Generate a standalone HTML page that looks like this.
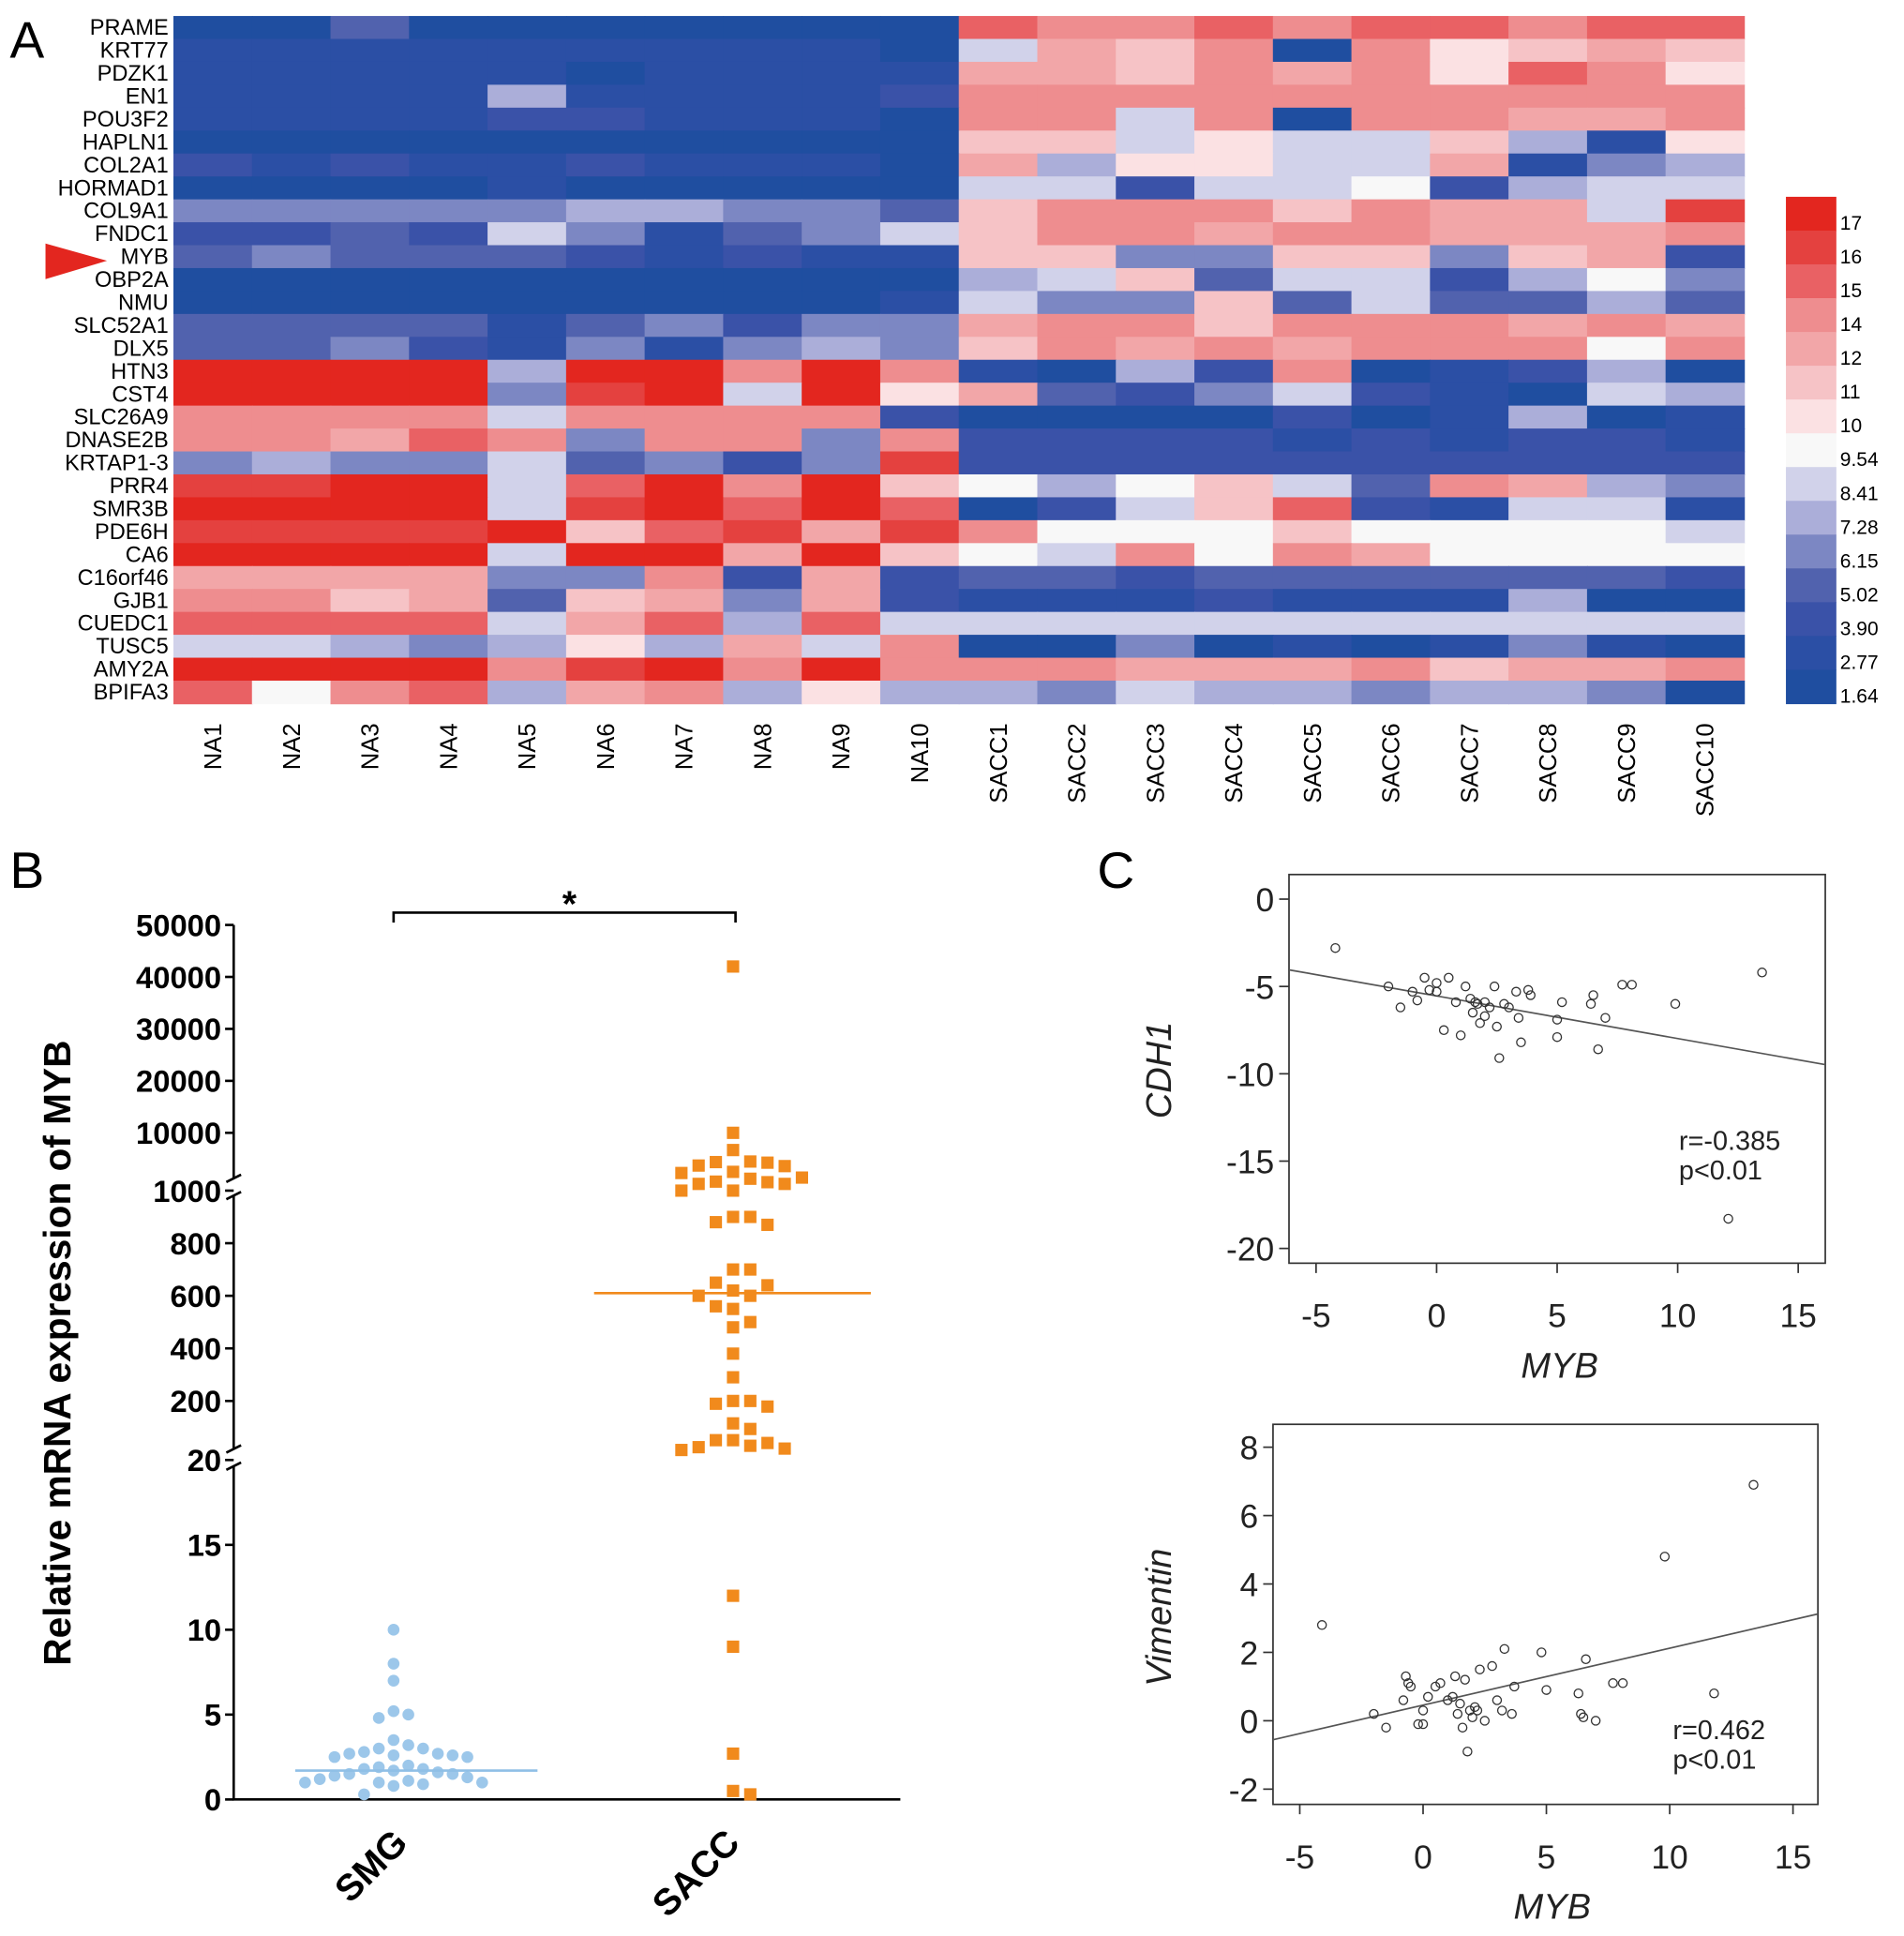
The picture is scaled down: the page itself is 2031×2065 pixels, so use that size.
<!DOCTYPE html>
<html><head><meta charset="utf-8">
<style>
html,body{margin:0;padding:0;background:#fff;}
svg{display:block;font-family:"Liberation Sans",Arial,sans-serif;}
</style></head>
<body>
<svg id="fig" width="2031" height="2065" viewBox="0 0 1548 1574" preserveAspectRatio="none" xmlns="http://www.w3.org/2000/svg">
<rect width="1548" height="1574" fill="#fff"/>
<g id="heat"></g>
<g id="pb"></g>
<g id="pc1"></g>
<g id="pc2"></g>
</svg>
<script>
const genes=["PRAME","KRT77","PDZK1","EN1","POU3F2","HAPLN1","COL2A1","HORMAD1","COL9A1","FNDC1","MYB","OBP2A","NMU","SLC52A1","DLX5","HTN3","CST4","SLC26A9","DNASE2B","KRTAP1-3","PRR4","SMR3B","PDE6H","CA6","C16orf46","GJB1","CUEDC1","TUSC5","AMY2A","BPIFA3"];
const samples=["NA1","NA2","NA3","NA4","NA5","NA6","NA7","NA8","NA9","NA10","SACC1","SACC2","SACC3","SACC4","SACC5","SACC6","SACC7","SACC8","SACC9","SACC10"];
const heatRows=["0030000000cbbcbccbcc","11111111106a9b0b89a9","1111101111aa9bab8cb8","1111511112bbbbbbbbbb","1111221110bb6b0bbaab","00000000009968669518","2121121110a58866a145","00001000006626672566","44444554439bbb9baa6d","22326413469bbabbaaab","343332121199449949a2","00000000005693662574","00000000016449363353","3333134244abb9bbbaba","33421414549bababbb7b","eeee5eebeb1052b01250","eeee4de6e8a324621065","bbbb6bbbb20000201501","bbacb4bb4b2222121221","454463424d2222222222","ddee6cebe975796 3ba54".replace(/ /g,"").slice(0,20),"eeee6dece c02 69c216 61".replace(/ /g,"").slice(0,20),"dddde9cdadb777977776","eeee6eeae976b7ba7777","aaaa44b2a23323333332","bb9a39a4a21112111500","cccc6ac5c66666666666","665458 5a6b00401 01410".replace(/ /g,"").slice(0,20),"eeeebdebebbbaaab9aab","c7bc5ab58554655455 4".replace(/ /g,"").slice(0,20)];
const levelColors=["#1f4ea0","#2b4fa5","#3a52a8","#5162ae","#7c87c3","#abaed9","#d1d2ea","#f8f8f8","#fbe1e3","#f6c3c6","#f2a6a8","#ee8d8f","#e96164","#e4413f","#e3261f"];
const cbLabels=["17","16","15","14","12","11","10","9.54","8.41","7.28","6.15","5.02","3.90","2.77","1.64"];

const smgVals=[10,8,7,5.2,5,4.8,3.5,3.2,3,3,2.8,2.7,2.7,2.6,2.6,2.5,2.5,2,1.9,1.8,1.8,1.7,1.6,1.5,1.5,1.4,1.3,1.2,1.1,1.0,1.0,1.0,0.9,0.8,0.3];
const saccVals=[42000,10000,7000,5000,4900,4800,4300,4200,3200,3000,2200,2000,1500,1400,1100,1100,1000,1000,900,900,880,870,700,700,650,640,620,600,600,560,550,500,480,380,290,200,200,190,180,120,100,60,60,50,40,35,30,25,12,9,2.7,0.5,0.3];
const smgMedian=1.7, saccMedian=610;
const bTicks=[0,5,10,15,20,200,400,600,800,1000,10000,20000,30000,40000,50000];

const cdhX=[-4.2,-2,-1.5,-1,-0.8,-0.5,-0.3,0,0,0.3,0.5,0.8,1,1.2,1.4,1.5,1.6,1.7,1.8,2,2,2.2,2.4,2.5,2.6,2.8,3,3.3,3.4,3.5,3.8,3.9,5,5,5.2,6.4,6.5,6.7,7,7.7,8.1,9.9,12.1,13.5];
const cdhY=[-2.8,-5,-6.2,-5.3,-5.8,-4.5,-5.2,-5.3,-4.8,-7.5,-4.5,-5.9,-7.8,-5,-5.7,-6.5,-5.9,-6,-7.1,-5.9,-6.7,-6.2,-5,-7.3,-9.1,-6,-6.2,-5.3,-6.8,-8.2,-5.2,-5.5,-6.9,-7.9,-5.9,-6,-5.5,-8.6,-6.8,-4.9,-4.9,-6,-18.3,-4.2];
const vimX=[-4.1,-2,-1.5,-0.8,-0.7,-0.6,-0.5,-0.2,0,0,0.2,0.5,0.7,1,1.2,1.3,1.4,1.5,1.6,1.7,1.8,1.9,2,2.1,2.2,2.3,2.5,2.8,3,3.2,3.3,3.6,3.7,4.8,5,6.3,6.4,6.5,6.6,7,7.7,8.1,9.8,11.8,13.4];
const vimY=[2.8,0.2,-0.2,0.6,1.3,1.1,1,-0.1,0.3,-0.1,0.7,1,1.1,0.6,0.7,1.3,0.2,0.5,-0.2,1.2,-0.9,0.3,0.1,0.4,0.3,1.5,0,1.6,0.6,0.3,2.1,0.2,1,2,0.9,0.8,0.2,0.1,1.8,0,1.1,1.1,4.8,0.8,6.9];
const xTicksC=[-5,0,5,10,15];
const yTicksC1=[0,-5,-10,-15,-20];
const yTicksC2=[8,6,4,2,0,-2];

const NS="http://www.w3.org/2000/svg";
function mk(parent,tag,attrs,txt){const e=document.createElementNS(NS,tag);for(const k in attrs)e.setAttribute(k,attrs[k]);if(txt!==undefined)e.textContent=txt;parent.appendChild(e);return e;}

// ---------- Panel A heatmap ----------
const H=document.getElementById('heat');
const hx0=141,hx1=1418,hy0=13,hy1=572;
const cw=(hx1-hx0)/samples.length, rh=(hy1-hy0)/genes.length;
let t=mk(H,'text',{x:8,y:47,'font-size':42},'A');


genes.forEach((g,r)=>{
  const row=heatRows[r];
  for(let c=0;c<samples.length;c++){
    const lv=parseInt(row[c]||'0',16);
    const rc=mk(H,'rect',{x:hx0+c*cw,y:hy0+r*rh,width:cw+0.6,height:rh+0.6,fill:levelColors[Math.min(lv,14)]});
    
    
  }
  const lb=mk(H,'text',{x:137,y:hy0+r*rh+rh/2+6,'font-size':18,'text-anchor':'end'},g);
  
  
});
const arrow=mk(H,'polygon',{points:"37,198 87,212 37,227",fill:"#e3261f"});


samples.forEach((s,c)=>{
  const cx=hx0+c*cw+cw/2+7;
  const lb=mk(H,'text',{x:cx,y:588,'font-size':19.5,'text-anchor':'end',transform:`rotate(-90 ${cx} 588)`},s);
  
  
});
const cbx=1452,cby0=160,cby1=572,segH=(cby1-cby0)/levelColors.length;
for(let i=0;i<levelColors.length;i++){
  const rc=mk(H,'rect',{x:cbx,y:cby0+i*segH,width:41,height:segH+0.5,fill:levelColors[14-i]});
  
  
  const lb=mk(H,'text',{x:1496,y:cby0+i*segH+segH/2+13,'font-size':16},cbLabels[i]);
  
  
}

// ---------- Panel B ----------
const B=document.getElementById('pb');
function yB(v){
  if(v<=20) return 1463-v*(1463-1187)/20;
  if(v<=200) return 1180-(v-20)*(1180-1139)/180;
  if(v<=1000) return 1139-(v-200)*(1139-968)/800;
  if(v<=10000) return 963-(v-1000)*(963-921)/9000;
  return 921-(v-10000)*(921-752)/40000;
}
t=mk(B,'text',{x:8,y:722,'font-size':42},'B');


let ax=mk(B,'path',{d:"M190,752 V958 M190,972 V1178 M190,1192 V1463 H732",stroke:"#000","stroke-width":2,fill:"none"});


let brk=mk(B,'path',{d:"M184,961 L196,955 M184,975 L196,969 M184,1181 L196,1175 M184,1195 L196,1189",stroke:"#000","stroke-width":2});


bTicks.forEach(v=>{
  const y= v===20?1187:(v===1000?968:yB(v));
  mk(B,'line',{x1:183,x2:190,y1:y,y2:y,stroke:'#000','stroke-width':2});
  const lb=mk(B,'text',{x:180,y:y+9,'font-size':25,'font-weight':'bold','text-anchor':'end'},String(v));
  
  
});
let yt=mk(B,'text',{x:57,y:1100,'font-size':31,'font-weight':'bold','text-anchor':'middle',transform:'rotate(-90 57 1100)'},'Relative mRNA expression of MYB');


[['SMG',333,1500],['SACC',603,1500]].forEach(([s,x,y])=>{
  const lb=mk(B,'text',{x:x,y:y,'font-size':30,'font-weight':'bold','text-anchor':'end',transform:`rotate(-45 ${x} ${y})`},s);
  
  
});
let br=mk(B,'path',{d:"M320,750 V742 H598 V750",stroke:'#000','stroke-width':2,fill:'none'});


t=mk(B,'text',{x:463,y:745,'font-size':30,'font-weight':'bold','text-anchor':'middle'},'*');


function swarm(vals,cx,step){
  const placed=[];
  vals.forEach(v=>{
    const y=yB(v);let k=0,x=cx;
    while(true){
      const off= k===0?0:Math.ceil(k/2)*step*(k%2?1:-1);
      x=cx+off;
      if(!placed.some(p=>Math.hypot(p.x-x,p.y-y)<step-0.5))break;
      k++; if(k>40)break;
    }
    placed.push({x,y,v});
  });
  return placed;
}
swarm(smgVals,320,12).forEach(p=>{
  const c=mk(B,'circle',{cx:p.x,cy:p.y,r:4.8,fill:'#9cc7ea'});
  
  
});
swarm(saccVals,596,14).forEach(p=>{
  const c=mk(B,'rect',{x:p.x-5,y:p.y-5,width:10,height:10,fill:'#f18a1c'});
  
  
});
let m1=mk(B,'line',{x1:240,x2:437,y1:yB(smgMedian),y2:yB(smgMedian),stroke:'#8fbfe6','stroke-width':2});


let m2=mk(B,'line',{x1:483,x2:708,y1:yB(saccMedian),y2:yB(saccMedian),stroke:'#f18a1c','stroke-width':2});



// ---------- Panel C ----------
t=mk(document.getElementById('pc1'),'text',{x:892,y:722,'font-size':42},'C');


function scatter(G,box,xs,xa,ya,xv,yv,yTicks,ylab,rtxt,ptxt,txy,ylabPos,xlabPos){
  const [bx0,by0,bx1,by1]=box;
  const X=v=>xa[0]+(v-xa[1])*xa[2];
  const Y=v=>ya[0]-(v-ya[1])*ya[2];
  const fr=mk(G,'rect',{x:bx0,y:by0,width:bx1-bx0,height:by1-by0,fill:'none',stroke:'#333','stroke-width':1.3});
  
  
  xs.forEach(v=>{
    mk(G,'line',{x1:X(v),x2:X(v),y1:by1,y2:by1+8,stroke:'#333','stroke-width':1.3});
    const lb=mk(G,'text',{x:X(v),y:by1+52,'font-size':27,'text-anchor':'middle',fill:'#222'},String(v));
    
    
  });
  yTicks.forEach(v=>{
    mk(G,'line',{x1:bx0-8,x2:bx0,y1:Y(v),y2:Y(v),stroke:'#333','stroke-width':1.3});
    const lb=mk(G,'text',{x:bx0-12,y:Y(v)+10,'font-size':27,'text-anchor':'end',fill:'#222'},String(v));
    
    
  });
  const n=xv.length,mx=xv.reduce((a,b)=>a+b)/n,my=yv.reduce((a,b)=>a+b)/n;
  let sxy=0,sxx=0;for(let i=0;i<n;i++){sxy+=(xv[i]-mx)*(yv[i]-my);sxx+=(xv[i]-mx)**2;}
  const sl=sxy/sxx,ic=my-sl*mx;
  const xl0=xa[1]+(bx0-xa[0])/xa[2], xl1=xa[1]+(bx1-xa[0])/xa[2];
  const rl=mk(G,'line',{x1:bx0,x2:bx1,y1:Y(ic+sl*xl0),y2:Y(ic+sl*xl1),stroke:'#555','stroke-width':1.3});
  
  
  for(let i=0;i<n;i++){
    const c=mk(G,'circle',{cx:X(xv[i]),cy:Y(yv[i]),r:3.5,fill:'none',stroke:'#333','stroke-width':1});
    
    
  }
  let a=mk(G,'text',{x:ylabPos[0],y:ylabPos[1],'font-size':29,'font-style':'italic','text-anchor':'middle',transform:`rotate(-90 ${ylabPos[0]} ${ylabPos[1]})`,fill:'#222'},ylab);
  
  
  a=mk(G,'text',{x:xlabPos[0],y:xlabPos[1],'font-size':29,'font-style':'italic','text-anchor':'middle',fill:'#222'},'MYB');
  
  
  a=mk(G,'text',{x:txy[0],y:txy[1],'font-size':22,fill:'#222'},rtxt);
  
  
  a=mk(G,'text',{x:txy[0],y:txy[1]+24,'font-size':22,fill:'#222'},ptxt);
  
  
}
scatter(document.getElementById('pc1'),[1048,711,1484,1027],xTicksC,[1168,0,19.6],[731,0,14.2],cdhX,cdhY,yTicksC1,'CDH1','r=-0.385','p<0.01',[1365,935],[952,870],[1268,1120]);
scatter(document.getElementById('pc2'),[1035,1158,1478,1467],xTicksC,[1157,0,20.05],[1399,0,27.8],vimX,vimY,yTicksC2,'Vimentin','r=0.462','p<0.01',[1360,1414],[952,1315],[1262,1560]);
</script>
</body></html>
